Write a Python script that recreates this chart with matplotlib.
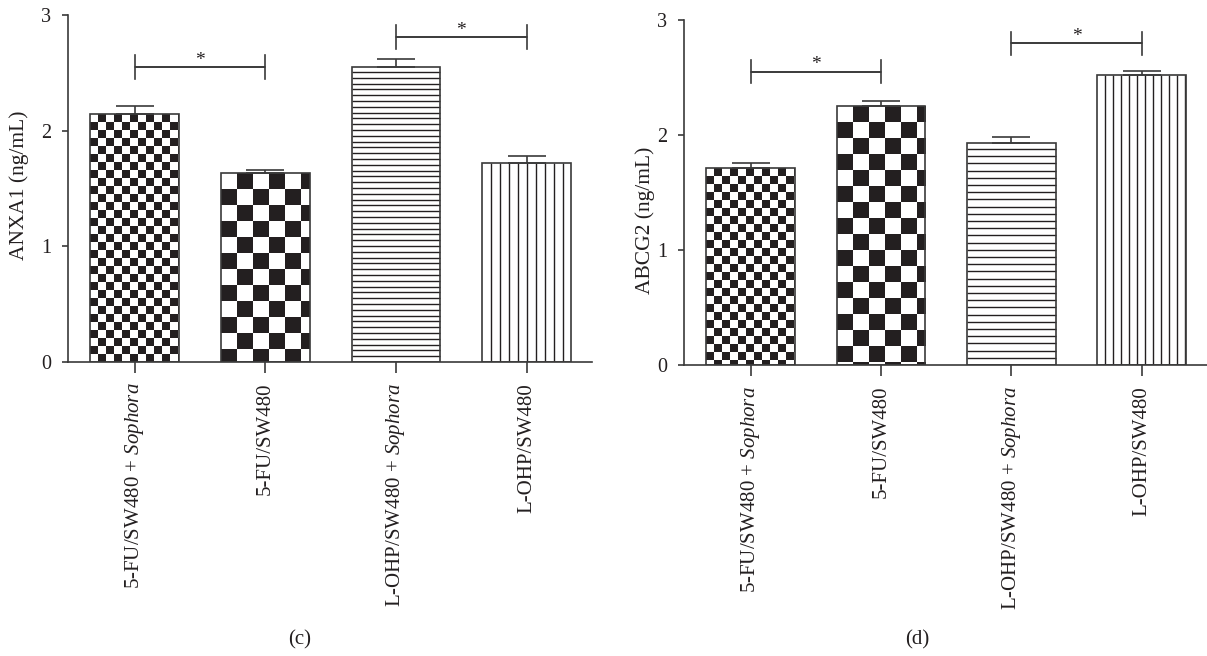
import numpy as np
import matplotlib
matplotlib.use("Agg")
import matplotlib.pyplot as plt
from matplotlib.colors import ListedColormap

plt.rcParams['font.family'] = ['Liberation Serif', 'DejaVu Serif']
plt.rcParams['mathtext.fontset'] = 'custom'
plt.rcParams['mathtext.rm'] = 'Liberation Serif'
plt.rcParams['mathtext.it'] = 'Liberation Serif:italic'

#--------------data
groups = ['5-FU/SW480 + $\\mathit{Sophora}$', '5-FU/SW480',
          'L-OHP/SW480 + $\\mathit{Sophora}$', 'L-OHP/SW480']
anxa1 = [2.14, 1.63, 2.55, 1.72]
anxa1_err = [0.07, 0.03, 0.07, 0.06]
abcg2 = [1.71, 2.25, 1.93, 2.52]
abcg2_err = [0.05, 0.05, 0.05, 0.04]
# significance brackets: (left bar, right bar, height)
anxa1_sig = [(0, 1, 2.55), (2, 3, 2.81)]
abcg2_sig = [(0, 1, 2.55), (2, 3, 2.80)]

dark = '#231f20'
edge = '#3a3a3a'

fig = plt.figure(figsize=(12.07, 6.56), dpi=100)


def px_scale(ax):
    x0, x1 = ax.get_xlim()
    y0, y1 = ax.get_ylim()
    return ax.bbox.width / (x1 - x0), ax.bbox.height / (y1 - y0)


def checker(ax, bar, cell):
    sx, sy = px_scale(ax)
    x, w, h = bar.get_x(), bar.get_width(), bar.get_height()
    cw, ch = cell / sx, cell / sy
    nx, ny = int(np.ceil(w / cw)), int(np.ceil(h / ch)) + 1
    img = np.add.outer(np.arange(ny), np.arange(nx)) % 2
    im = ax.imshow(img, cmap=ListedColormap(['white', dark]), origin='upper',
                   extent=(x, x + nx * cw, h - ny * ch, h), aspect='auto',
                   interpolation='nearest', zorder=1)
    im.set_clip_path(bar)


def stripes(ax, bar, step, vertical):
    sx, sy = px_scale(ax)
    x, w, h = bar.get_x(), bar.get_width(), bar.get_height()
    if vertical:
        xs = x + np.arange(step / sx, w, step / sx)
        ax.vlines(xs, 0, h, color=dark, lw=1.0, zorder=1)
    else:
        ys = np.arange(step / sy, h, step / sy)
        ax.hlines(ys, x, x + w, color=dark, lw=1.0, zorder=1)


def panel(rect, vals, errs, sig, ylabel, label_xy, hstep, vstep):
    ax = fig.add_axes(rect)
    ax.set_xlim(-0.51, 3.5)
    ax.set_ylim(0, 3)
    ax.set_autoscale_on(False)
    x = np.arange(len(vals))
    bars = ax.bar(x, vals, width=0.68, facecolor='none', edgecolor=edge,
                  linewidth=1.2, zorder=2)
    ax.errorbar(x, vals, yerr=[np.zeros(len(errs)), errs], fmt='none',
                ecolor=edge, elinewidth=1.2, capsize=14, capthick=1.2, zorder=2)
    checker(ax, bars[0], 8)
    checker(ax, bars[1], 16)
    stripes(ax, bars[2], hstep, False)
    stripes(ax, bars[3], vstep, True)
    for a, b, y in sig:
        ax.plot([a, a, b, b], [y - 0.1, y, y, y - 0.1], color=edge, lw=1.2)
        ax.plot([a, a, b, b], [y + 0.1, y, y, y + 0.1], color=edge, lw=1.2)
        ax.text((a + b) / 2, y + 0.02, '*', ha='center', va='baseline',
                fontsize=14, color=dark)
    for s in ['top', 'right']:
        ax.spines[s].set_visible(False)
    for s in ['left', 'bottom']:
        ax.spines[s].set_color(edge)
        ax.spines[s].set_linewidth(1.2)
    ax.set_yticks([0, 1, 2, 3])
    ax.set_xticks(x)
    ax.set_xticklabels(groups, rotation=90, fontsize=15, color=dark)
    ax.tick_params(axis='y', length=4.3, width=1.2, color=edge, labelsize=14.5,
                   labelcolor=dark, pad=8)
    ax.tick_params(axis='x', length=8, width=1.2, color=edge, pad=7)
    ax.set_ylabel(ylabel, fontsize=15.5, color=dark)
    ax.yaxis.set_label_coords(*label_xy)
    return ax


panel([0.0563, 0.4482, 0.4342, 0.5290], anxa1, anxa1_err, anxa1_sig,
      'ANXA1 (ng/mL)', (-0.075, 0.51), 5.8, 9)
panel([0.5667, 0.4436, 0.4333, 0.5259], abcg2, abcg2_err, abcg2_sig,
      'ABCG2 (ng/mL)', (-0.055, 0.42), 7.2, 8)

fig.text(300 / 1207, 1 - 640 / 656, '(c)', ha='center', va='center',
         fontsize=15, color=dark)
fig.text(917 / 1207, 1 - 640 / 656, '(d)', ha='center', va='center',
         fontsize=15, color=dark)

plt.savefig('out.png', dpi=100)
